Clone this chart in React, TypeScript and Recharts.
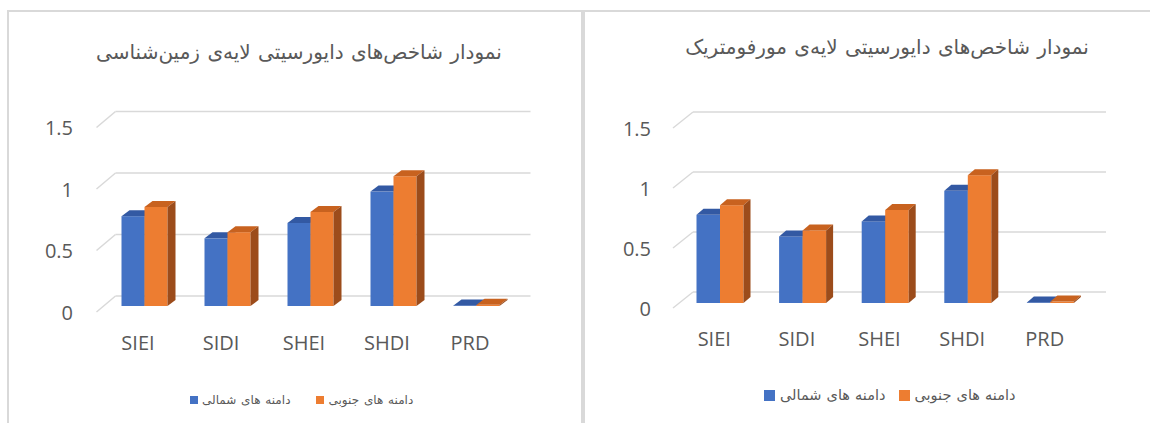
import { ComposedChart, Bar, XAxis, YAxis, CartesianGrid, Legend } from 'recharts';

const categories = ['SIEI', 'SIDI', 'SHEI', 'SHDI', 'PRD'];
const geoNorth = [0.73, 0.55, 0.675, 0.93, 0.005];
const geoSouth = [0.805, 0.6, 0.765, 1.055, 0.01];
const morphNorth = [0.735, 0.555, 0.68, 0.935, 0.005];
const morphSouth = [0.815, 0.605, 0.775, 1.065, 0.012];
const yTicks = [0, 0.5, 1, 1.5];
const seriesNames = ['دامنه های شمالی', 'دامنه های جنوبی'];
const geoTitle = 'نمودار شاخص\u200cهای دایورسیتی لایه\u200cی زمین\u200cشناسی';
const morphTitle = 'نمودار شاخص\u200cهای دایورسیتی لایه\u200cی مورفومتریک';

const colors = [
  { front: '#4472C4', top: '#3359A3', side: '#2D4E8C' },
  { front: '#ED7D31', top: '#C8621F', side: '#9C4C1B' },
];
const textColor = '#595959';
const gridColor = '#D9D9D9';

type Layout = {
  width: number;
  height: number;
  plotLeft: number;
  plotRight: number;
  plotTop: number;
  plotBottom: number;
  yLabelRight: number;
  back: [number, number];
  shift: [number, number];
  depth: [number, number];
  barSize: number;
  titleX: number;
  titleY: number;
  titleSize: number;
  legendLeft: number;
  legendTop: number;
  legendFont: number;
  legendWordGap: number;
  marker: number;
  markerGap: number;
  itemGap: number;
};

const leftLayout: Layout = {
  width: 580, height: 423,
  plotLeft: 96.5, plotRight: 511.5, plotTop: 127.5, plotBottom: 312,
  yLabelRight: 73,
  back: [19, -16], shift: [6, -6], depth: [8, 6], barSize: 23,
  titleX: 299, titleY: 52, titleSize: 20,
  legendLeft: 190, legendTop: 393, legendFont: 12, legendWordGap: 1, marker: 8, markerGap: 4, itemGap: 26,
};

const rightLayout: Layout = {
  width: 567, height: 423,
  plotLeft: 90, plotRight: 503, plotTop: 128, plotBottom: 308,
  yLabelRight: 68,
  back: [20, -16], shift: [5.5, -5], depth: [7, 6], barSize: 23.5,
  titleX: 304, titleY: 47, titleSize: 20,
  legendLeft: 181, legendTop: 387, legendFont: 14.5, legendWordGap: 0.5, marker: 11, markerGap: 5, itemGap: 13,
};

function Bar3D(props: any, l: Layout, c: { front: string; top: string; side: string }) {
  const { x, y, width, height } = props;
  if (x == null || y == null) return <g />;
  const fx = x + l.shift[0];
  const fy = y + l.shift[1];
  const [dx, dy] = l.depth;
  const h = Math.max(height, 0);
  return (
    <g>
      <rect x={fx} y={fy} width={width} height={h} fill={c.front} />
      <polygon
        points={`${fx},${fy} ${fx + dx},${fy - dy} ${fx + width + dx},${fy - dy} ${fx + width},${fy}`}
        fill={c.top}
      />
      <polygon
        points={`${fx + width},${fy} ${fx + width + dx},${fy - dy} ${fx + width + dx},${fy + h - dy} ${fx + width},${fy + h}`}
        fill={c.side}
      />
    </g>
  );
}

function DiversityChart({ title, north, south, l }: { title: string; north: number[]; south: number[]; l: Layout }) {
  const data = categories.map((name, i) => ({ name, north: north[i], south: south[i] }));
  const [bx, by] = l.back;

  const gridLine = (p: any) => (
    <g key={p.key}>
      <line x1={p.x1} y1={p.y1} x2={p.x1 + bx} y2={p.y1 + by} stroke={gridColor} strokeWidth={1.5} />
      <line x1={p.x1 + bx} y1={p.y1 + by} x2={p.x2 + bx} y2={p.y1 + by} stroke={gridColor} strokeWidth={1.5} />
    </g>
  );

  const legendContent = () => (
    <div style={{ display: 'flex', alignItems: 'center', gap: l.itemGap }}>
      {seriesNames.map((n, i) => (
        <div key={n} style={{ display: 'flex', alignItems: 'center', gap: l.markerGap }}>
          <span style={{ display: 'inline-block', width: l.marker, height: l.marker, background: colors[i].front }} />
          <span
            style={{
              fontFamily: 'DejaVu Sans',
              fontSize: l.legendFont,
              wordSpacing: l.legendWordGap,
              color: textColor,
              whiteSpace: 'nowrap',
            }}
          >
            {n}
          </span>
        </div>
      ))}
    </div>
  );

  return (
    <ComposedChart
      width={l.width}
      height={l.height}
      data={data}
      barGap={0}
      margin={{ top: l.plotTop, right: l.width - l.plotRight, bottom: l.height - l.plotBottom - 30, left: l.plotLeft - 60 }}
    >
      <text
        x={l.titleX}
        y={l.titleY}
        textAnchor="middle"
        dominantBaseline="central"
        fontFamily="DejaVu Sans"
        fontSize={l.titleSize}
        wordSpacing={1}
        fill={textColor}
      >
        {title}
      </text>
      <CartesianGrid vertical={false} horizontal={gridLine} />
      <XAxis
        dataKey="name"
        height={30}
        axisLine={false}
        tickLine={false}
        tick={(p: any) => (
          <text x={p.x} y={l.plotBottom + 30} textAnchor="middle" dominantBaseline="central" fontFamily="Open Sans" fontSize={20} fill={textColor}>
            {p.payload.value}
          </text>
        )}
      />
      <YAxis
        type="number"
        domain={[0, 1.5]}
        ticks={yTicks}
        width={60}
        axisLine={false}
        tickLine={false}
        tick={(p: any) => (
          <text x={l.yLabelRight} y={p.y} textAnchor="end" dominantBaseline="central" fontFamily="Open Sans" fontSize={20} fill={textColor}>
            {p.payload.value}
          </text>
        )}
      />
      <Legend
        layout="horizontal"
        verticalAlign="middle"
        align="center"
        content={legendContent}
        wrapperStyle={{ left: l.legendLeft, top: l.legendTop, width: 'auto', height: 'auto' }}
      />
      <Bar dataKey="north" name={seriesNames[0]} barSize={l.barSize} isAnimationActive={false} shape={(p: any) => Bar3D(p, l, colors[0])} />
      <Bar dataKey="south" name={seriesNames[1]} barSize={l.barSize} isAnimationActive={false} shape={(p: any) => Bar3D(p, l, colors[1])} />
    </ComposedChart>
  );
}

export default function App() {
  return (
    <div style={{ position: 'absolute', left: 0, top: 0, width: 1150, height: 423, background: '#fff', overflow: 'hidden' }}>
      <div style={{ position: 'absolute', left: 7, top: 10, width: 572, height: 440, borderLeft: `2px solid ${gridColor}`, borderTop: `2px solid ${gridColor}`, borderRight: `2px solid ${gridColor}` }} />
      <div style={{ position: 'absolute', left: 583, top: 10, width: 600, height: 440, borderLeft: `2px solid ${gridColor}`, borderTop: `2px solid ${gridColor}` }} />
      <div style={{ position: 'absolute', left: 0, top: 0 }}>
        <DiversityChart title={geoTitle} north={geoNorth} south={geoSouth} l={leftLayout} />
      </div>
      <div style={{ position: 'absolute', left: 583, top: 0 }}>
        <DiversityChart title={morphTitle} north={morphNorth} south={morphSouth} l={rightLayout} />
      </div>
    </div>
  );
}
